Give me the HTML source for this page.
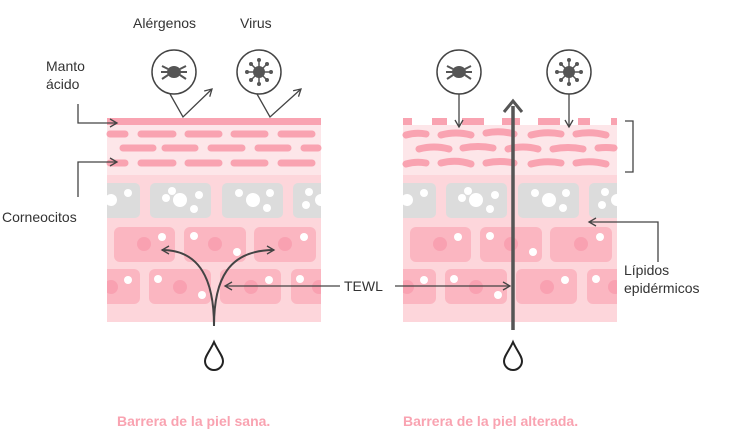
<!DOCTYPE html><html><head><style>body{margin:0;background:#fff}svg{display:block}text{font-family:"Liberation Sans",sans-serif;font-size:14px;fill:#333}</style></head><body>
<svg width="740" height="447" viewBox="0 0 740 447">
<defs>
<clipPath id="c"><rect x="0" y="0" width="214" height="400"/></clipPath>
<marker id="a" markerWidth="10" markerHeight="10" refX="8" refY="5" orient="auto" markerUnits="userSpaceOnUse"><path d="M1,1 L8,5 L1,9" fill="none" stroke="#444" stroke-width="1.3"/></marker>
<g id="cells" clip-path="url(#c)">
<rect x="0" y="175" width="214" height="147" fill="#fdd6db"/>
<rect x="-5" y="183" width="38" height="35" rx="5" fill="#dcdcdc"/>
<rect x="43" y="183" width="61" height="35" rx="5" fill="#dcdcdc"/>
<rect x="115" y="183" width="61" height="35" rx="5" fill="#dcdcdc"/>
<rect x="186" y="183" width="35" height="35" rx="5" fill="#dcdcdc"/>
<g fill="#fff"><circle cx="4" cy="200" r="6"/><circle cx="21" cy="193" r="4"/><circle cx="59" cy="198" r="4"/><circle cx="73" cy="200" r="7"/><circle cx="92" cy="195" r="4"/><circle cx="87" cy="209" r="4"/><circle cx="65" cy="191" r="4"/><circle cx="132" cy="193" r="4"/><circle cx="146" cy="200" r="7"/><circle cx="163" cy="193" r="4"/><circle cx="160" cy="208" r="4"/><circle cx="202" cy="192" r="4"/><circle cx="199" cy="205" r="4"/><circle cx="214" cy="200" r="6"/></g>
<g fill="#fbb6c1"><rect x="7" y="227" width="61" height="35" rx="6"/><rect x="77" y="227" width="62" height="35" rx="6"/><rect x="147" y="227" width="62" height="35" rx="6"/><rect x="-6" y="269" width="39" height="35" rx="6"/><rect x="42" y="269" width="62" height="35" rx="6"/><rect x="113" y="269" width="61" height="35" rx="6"/><rect x="184" y="269" width="36" height="35" rx="6"/></g>
<g fill="#f9a1b1"><circle cx="37" cy="244" r="7"/><circle cx="108" cy="244" r="7"/><circle cx="178" cy="244" r="7"/><circle cx="4" cy="287" r="7"/><circle cx="73" cy="287" r="7"/><circle cx="144" cy="287" r="7"/><circle cx="212" cy="287" r="7"/></g>
<g fill="#fff"><circle cx="55" cy="237" r="4"/><circle cx="87" cy="236" r="4"/><circle cx="130" cy="252" r="4"/><circle cx="197" cy="237" r="4"/><circle cx="21" cy="280" r="4"/><circle cx="51" cy="279" r="4"/><circle cx="95" cy="295" r="4"/><circle cx="162" cy="280" r="4"/><circle cx="193" cy="279" r="4"/></g>
</g>
<g id="bug"><circle r="22" fill="#fff" stroke="#444" stroke-width="1.5"/><ellipse rx="7" ry="6" fill="#555"/><g stroke="#555" stroke-width="2" fill="none"><path d="M-6,-3 L-12,-6 M-6,0 L-13,0 M-6,3 L-12,7 M6,-3 L12,-6 M6,0 L13,0 M6,3 L12,7"/></g></g>
<g id="vir"><circle r="22" fill="#fff" stroke="#444" stroke-width="1.5"/><circle r="6" fill="#555"/><g stroke="#555" stroke-width="1.5"><path d="M0,-12V12M-12,0H12M-8,-8L8,8M8,-8L-8,8"/></g><g fill="#555"><circle cx="0" cy="-12" r="2"/><circle cx="0" cy="12" r="2"/><circle cx="-12" cy="0" r="2"/><circle cx="12" cy="0" r="2"/><circle cx="-8" cy="-8" r="2"/><circle cx="8" cy="8" r="2"/><circle cx="8" cy="-8" r="2"/><circle cx="-8" cy="8" r="2"/></g></g>
<path id="drop" d="M0,-14 C-4,-5 -9,0 -9,5 A9,9 0 0 0 9,5 C9,0 4,-5 0,-14Z" fill="#fff" stroke="#222" stroke-width="2"/>
</defs>
<g transform="translate(107,0)"><rect x="0" y="125" width="214" height="50" fill="#fde6e9"/><use href="#cells"/></g>
<rect x="107" y="118" width="214" height="7" fill="#f9a3b1"/>
<g stroke="#f9a3b1" stroke-width="7" stroke-linecap="round">
<path d="M110,134H125M141,134H173M188,134H219M234,134H265M281,134H312"/>
<path d="M123,148H153M165,148H195M211,148H242M258,148H288M304,148H318"/>
<path d="M110,163H125M141,163H173M188,163H219M234,163H265M281,163H312"/>
</g>
<g transform="translate(403,0)"><rect x="0" y="125" width="214" height="50" fill="#fde6e9"/><use href="#cells"/></g>
<g fill="#f9a3b1"><rect x="403" y="118" width="9" height="7"/><rect x="432" y="118" width="15" height="7"/><rect x="462" y="118" width="22" height="7"/><rect x="502" y="118" width="18" height="7"/><rect x="538" y="118" width="22" height="7"/><rect x="578" y="118" width="12" height="7"/><rect x="611" y="118" width="6" height="7"/></g>
<g stroke="#f9a3b1" stroke-width="7" stroke-linecap="round" fill="none">
<path d="M406,135q10,-3 20,-1M441,135q15,-4 30,0M486,133q14,-3 28,1M531,135q15,-4 30,-1M576,134q15,-3 30,1"/>
<path d="M419,149q15,-4 30,0M463,148q15,-3 30,0M508,149q15,-4 30,0M553,149q15,-3 30,0M598,148q8,-1 16,0"/>
<path d="M406,164q10,-3 20,-1M441,163q15,-4 30,1M486,163q14,-3 28,0M531,164q15,-4 30,-1M576,163q15,-3 30,1"/>
</g>
<use href="#bug" x="174" y="72"/><use href="#vir" x="259" y="72"/>
<use href="#bug" x="459" y="72"/><use href="#vir" x="569" y="72"/>
<g stroke="#444" stroke-width="1.3" fill="none">
<path d="M170,94L183,117L212,89" marker-end="url(#a)"/>
<path d="M257,94L270,117L301,89" marker-end="url(#a)"/>
<path d="M459,94V127" marker-end="url(#a)"/>
<path d="M569,94V127" marker-end="url(#a)"/>
<path d="M78,104V123H117" marker-end="url(#a)"/>
<path d="M78,197V162H117" marker-end="url(#a)"/>
<path d="M625,121H633V172H625"/>
<path d="M658,262V222H589" marker-end="url(#a)"/>
<path d="M340,286H225" marker-end="url(#a)"/>
<path d="M395,286H510" marker-end="url(#a)"/>
</g>
<g stroke="#444" stroke-width="2" fill="none">
<path d="M214,326C214,280 200,250 162,250" marker-end="url(#a)"/>
<path d="M214,326C214,280 228,250 274,250" marker-end="url(#a)"/>
</g>
<path d="M513,330V106" stroke="#555" stroke-width="3.5"/>
<path d="M504,112L513,101L522,112" stroke="#555" stroke-width="3" fill="none"/>
<use href="#drop" x="214" y="356"/><use href="#drop" x="513" y="356"/>
<text x="133" y="28">Alérgenos</text><text x="240" y="28">Virus</text>
<text x="46" y="71">Manto</text><text x="46" y="89">ácido</text>
<text x="2" y="222">Corneocitos</text>
<text x="344" y="291">TEWL</text>
<text x="624" y="275">Lípidos</text><text x="624" y="293">epidérmicos</text>
<text x="117" y="426" style="fill:#f9a3b1;font-weight:bold">Barrera de la piel sana.</text>
<text x="403" y="426" style="fill:#f9a3b1;font-weight:bold">Barrera de la piel alterada.</text>
</svg></body></html>
